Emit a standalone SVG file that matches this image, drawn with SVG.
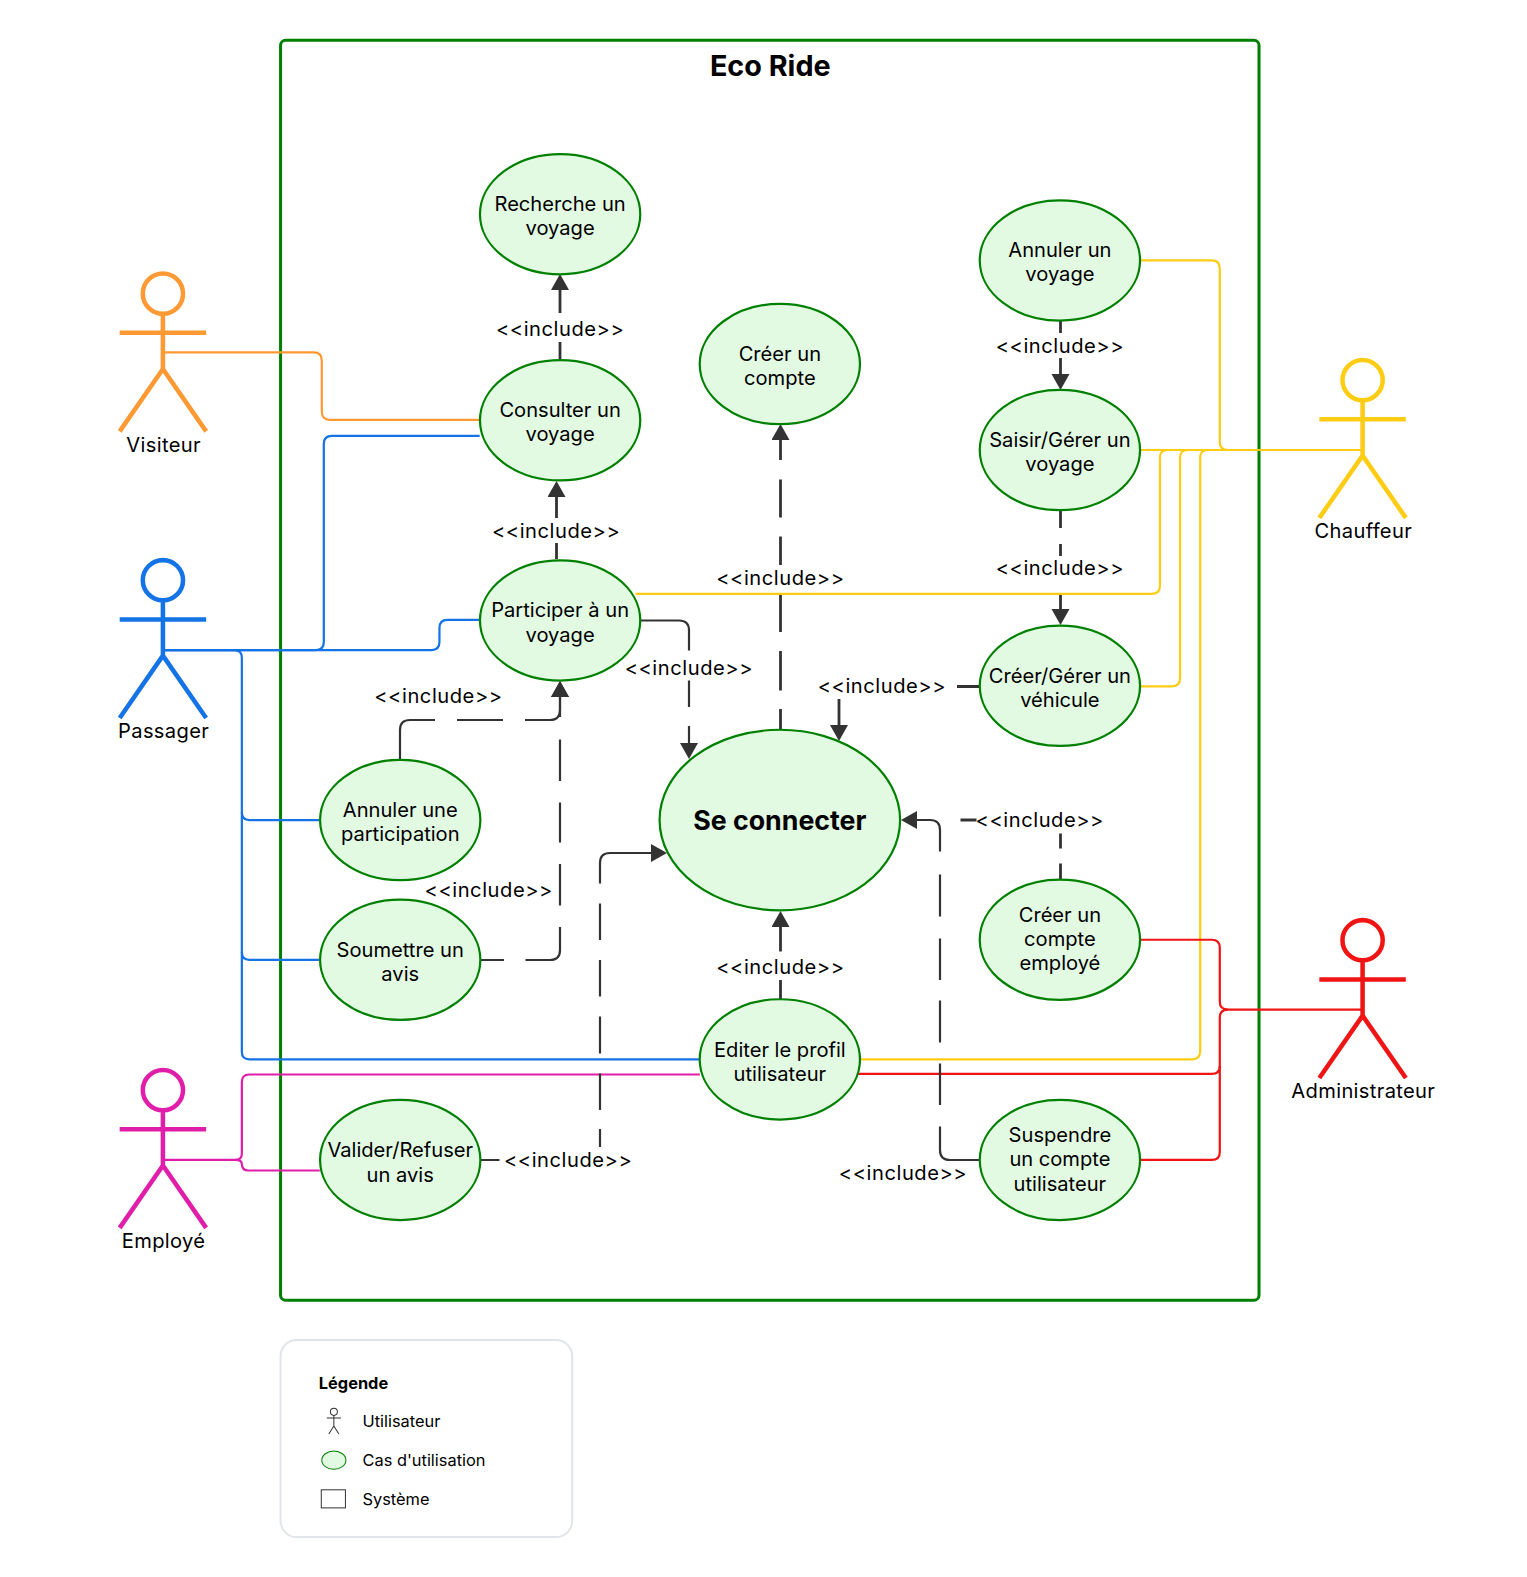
<svg xmlns="http://www.w3.org/2000/svg" width="1527" height="1577" viewBox="0 0 1527 1577">
<style>
text{font-family:Inter,"Liberation Sans",sans-serif;fill:#000;text-anchor:middle}
.uc ellipse{fill:#e2f9e2;stroke:#008000;stroke-width:2.2}
.uc text{font-size:20px}
.actor{fill:none;stroke-width:4.5}
.actor-label{font-size:20px;letter-spacing:.35px}
.lbl{font-size:20px;letter-spacing:.55px}
.c{fill:none;stroke-width:2.2}
.s{fill:none;stroke:#333;stroke-width:2.8}
.t{stroke-width:2.2}
.m{marker-end:url(#a)}
.leg{font-size:16.300px;text-anchor:start}
</style>
<defs>
<marker id="a" markerUnits="userSpaceOnUse" markerWidth="18" markerHeight="19" refX="7" refY="9" orient="auto"><path d="M0 0L16 9L0 18Z" fill="#333"/></marker>
<g id="act"><circle cx="0" cy="0" r="20"/><path d="M0 20V75M-43 39H43M0 75L-43 137M0 75L43 137"/></g>
</defs>
<g transform="scale(1.0056)">
<rect id="system" x="279" y="40" width="973" height="1253" rx="5" fill="#fff" stroke="#008000" stroke-width="3"/>
<text x="766" y="76" font-size="28.600" font-weight="700">Eco Ride</text>
</g>
<g id="connectors">
<g transform="scale(1.0056)">
<g class="c" stroke="#ff9933"><path d="M162 350.500H312Q320 350.500 320 358.500V409Q320 417.500 328 417.500H477"/></g>
<g class="c" stroke="#1473e6">
<path d="M162 646.500H314Q322 646.500 322 638.500V441.500Q322 433.500 330 433.500H477"/>
<path d="M162 646.500H429Q437 646.500 437 638.500V624.500Q437 616.500 445 616.500H477"/>
<path d="M162 646.500H233Q240.500 646.500 240.500 654V808Q240.500 815.500 248 815.500H318"/>
<path d="M240.500 808V947Q240.500 954.500 248 954.500H318"/>
<path d="M240.500 947V1046Q240.500 1053.500 248 1053.500H696"/>
</g>
<g class="c" stroke="#e01ea9">
<path d="M162 1153.500H234Q240.500 1153.500 240.500 1147V1076Q240.500 1068.500 248 1068.500H696"/>
<path d="M234 1153.500Q240.500 1153.500 240.500 1157.500Q240.500 1164 247 1164H318"/>
</g>
<g class="c" stroke="#ffcc14">
<path d="M1355 447.500H1221Q1213 447.500 1213 439.500V267Q1213 259 1205 259H1133"/>
<path d="M1355 447.500H1134"/>
<path d="M1161 447.500Q1153.500 447.500 1153.500 455V582.500Q1153.500 590.500 1145.500 590.500H632"/>
<path d="M1181 447.500Q1173.500 447.500 1173.500 455V674.500Q1173.500 682.500 1165.500 682.500H1134"/>
<path d="M1201 447.500Q1193.500 447.500 1193.500 455V1045.500Q1193.500 1053.500 1185.500 1053.500H855"/>
</g>
<g class="c" stroke="#f01414">
<path d="M1355 1004H1221Q1213 1004 1213 996V942.500Q1213 934.500 1205 934.500H1134"/>
<path d="M1221 1004Q1213 1004 1213 1012V1060Q1213 1068 1205 1068H853"/>
<path d="M1213 1060V1145.500Q1213 1153.500 1205 1153.500H1134"/>
</g>
</g>
<g id="includes">
<path class="s m" d="M560 360V342M560 313V283"/>
<path class="s m" d="M556.500 559V543M556.500 518V490"/>
<path class="s m" d="M780.500 730V709M780.500 690.500V651M780.500 632V595M780.500 565V536.500M780.500 517.500V479.500M780.500 460V433"/>
<path class="s m" d="M980 686.500H957M839 699V732"/>
<path class="s m" d="M1060.500 320V333M1060.500 358V381"/>
<path class="s m" d="M1060.500 511V528M1060.500 544V556M1060.500 595V616"/>
<path class="s t m" d="M641 620.500H679Q689 620.500 689 630.500V650.500M689 680.500V707M689 726V750"/>
<path class="s t m" d="M400 759V730Q400 720 410 720H435M457 720H503M525 720H550Q560 720 560 710V690"/>
<path class="s t m" d="M481 960H504M525.500 960H550Q560 960 560 950V927M560 905.500V864M560 842.500V802.500M560 781V739.500M560 717V690"/>
<path class="s t m" d="M481 1160H499.500M600 1147V1129M600 1110V1073.500M600 1053.500V1016.500M600 996.500V960M600 940V903.500M600 883.500V863Q600 853 610 853H658"/>
<path class="s m" d="M780.500 999V980M780.500 951.500V920"/>
<path class="s t m" d="M980 1160H950Q940 1160 940 1150V1126.500M940 1105V1063.500M940 1042.500V1000.500M940 980V938.500M940 916.500V874.500M940 851.500V830Q940 820 930 820H910"/>
<path class="s" d="M1060.500 879V863.500M1060.500 848.500V833.500M976.500 820H960.500"/>
</g>
</g>
<g transform="scale(1.0056)">
<g id="labels">
<text class="lbl" x="557" y="334">&lt;&lt;include&gt;&gt;</text>
<text class="lbl" x="553" y="535">&lt;&lt;include&gt;&gt;</text>
<text class="lbl" x="1054" y="351">&lt;&lt;include&gt;&gt;</text>
<text class="lbl" x="1054" y="572">&lt;&lt;include&gt;&gt;</text>
<text class="lbl" x="776" y="581.500">&lt;&lt;include&gt;&gt;</text>
<text class="lbl" x="685" y="671">&lt;&lt;include&gt;&gt;</text>
<text class="lbl" x="877" y="689.500">&lt;&lt;include&gt;&gt;</text>
<text class="lbl" x="436" y="699.500">&lt;&lt;include&gt;&gt;</text>
<text class="lbl" x="486" y="892">&lt;&lt;include&gt;&gt;</text>
<text class="lbl" x="565" y="1160.500">&lt;&lt;include&gt;&gt;</text>
<text class="lbl" x="776" y="969">&lt;&lt;include&gt;&gt;</text>
<text class="lbl" x="898" y="1173">&lt;&lt;include&gt;&gt;</text>
<text class="lbl" x="1034" y="822">&lt;&lt;include&gt;&gt;</text>
</g>
<g id="uc-recherche" class="uc"><ellipse cx="557" cy="213" rx="79.700" ry="59.800"/><text x="557" y="210">Recherche un</text><text x="557" y="234">voyage</text></g>
<g id="uc-consulter" class="uc"><ellipse cx="557" cy="418" rx="79.700" ry="59.800"/><text x="557" y="415">Consulter un</text><text x="557" y="439">voyage</text></g>
<g id="uc-participer" class="uc"><ellipse cx="557" cy="617" rx="79.700" ry="59.800"/><text x="557" y="614">Participer à un</text><text x="557" y="638">voyage</text></g>
<g id="uc-creer-compte" class="uc"><ellipse cx="775.500" cy="362" rx="79.700" ry="59.800"/><text x="775.500" y="359">Créer un</text><text x="775.500" y="383">compte</text></g>
<g id="uc-annuler-voyage" class="uc"><ellipse cx="1054" cy="259" rx="79.700" ry="59.800"/><text x="1054" y="256">Annuler un</text><text x="1054" y="279.500">voyage</text></g>
<g id="uc-saisir" class="uc"><ellipse cx="1054" cy="447.500" rx="79.700" ry="59.800"/><text x="1054" y="445">Saisir/Gérer un</text><text x="1054" y="468.500">voyage</text></g>
<g id="uc-vehicule" class="uc"><ellipse cx="1054" cy="682" rx="79.700" ry="59.800"/><text x="1054" y="679">Créer/Gérer un</text><text x="1054" y="703">véhicule</text></g>
<g id="uc-annuler-participation" class="uc"><ellipse cx="398" cy="815.500" rx="79.700" ry="59.800"/><text x="398" y="812">Annuler une</text><text x="398" y="836">participation</text></g>
<g id="uc-soumettre" class="uc"><ellipse cx="398" cy="954.500" rx="79.700" ry="59.800"/><text x="398" y="952">Soumettre un</text><text x="398" y="976">avis</text></g>
<g id="uc-connecter" class="uc"><ellipse cx="775.500" cy="815.500" rx="119.600" ry="89.800"/><text x="775.500" y="825" font-weight="700" style="font-size:26.600px">Se connecter</text></g>
<g id="uc-compte-employe" class="uc"><ellipse cx="1054" cy="934.500" rx="79.700" ry="59.800"/><text x="1054" y="917">Créer un</text><text x="1054" y="941">compte</text><text x="1054" y="965">employé</text></g>
<g id="uc-editer" class="uc"><ellipse cx="775.500" cy="1053.500" rx="79.700" ry="59.800"/><text x="775.500" y="1051">Editer le profil</text><text x="775.500" y="1075">utilisateur</text></g>
<g id="uc-valider" class="uc"><ellipse cx="398" cy="1153.500" rx="79.700" ry="59.800"/><text x="398" y="1151">Valider/Refuser</text><text x="398" y="1175">un avis</text></g>
<g id="uc-suspendre" class="uc"><ellipse cx="1054" cy="1153.500" rx="79.700" ry="59.800"/><text x="1054" y="1136">Suspendre</text><text x="1054" y="1160">un compte</text><text x="1054" y="1184">utilisateur</text></g>
<g id="actor-visiteur"><use href="#act" class="actor" stroke="#ff9933" x="162" y="292"/><text class="actor-label" x="162.700" y="449">Visiteur</text></g>
<g id="actor-passager"><use href="#act" class="actor" stroke="#1473e6" x="162" y="577"/><text class="actor-label" x="162.700" y="734">Passager</text></g>
<g id="actor-employe"><use href="#act" class="actor" stroke="#e01ea9" x="162" y="1084"/><text class="actor-label" x="162.700" y="1241">Employé</text></g>
<g id="actor-chauffeur"><use href="#act" class="actor" stroke="#ffcc14" x="1355" y="378"/><text class="actor-label" x="1355.700" y="535">Chauffeur</text></g>
<g id="actor-admin"><use href="#act" class="actor" stroke="#f01414" x="1355" y="935"/><text class="actor-label" x="1355.700" y="1092">Administrateur</text></g>
<g id="legend">
<rect x="279" y="1332.500" width="290" height="196" rx="16" fill="#fff" stroke="#e1e5ea" stroke-width="2"/>
<text class="leg" x="317" y="1381" font-weight="700">Légende</text>
<g fill="none" stroke="#333" stroke-width="1"><circle cx="332" cy="1404" r="3.500"/><path d="M332 1407.500V1418M325 1410H339M332 1418L327 1426M332 1418L337 1426"/></g>
<text class="leg" x="360.500" y="1419.500">Utilisateur</text>
<ellipse cx="332" cy="1452" rx="12" ry="9" fill="#e2f9e2" stroke="#008000" stroke-width="1"/>
<text class="leg" x="360.500" y="1458">Cas d'utilisation</text>
<rect x="319.500" y="1481.500" width="24" height="18" fill="#fff" stroke="#333" stroke-width="1"/>
<text class="leg" x="360.500" y="1496.500">Système</text>
</g>
</g>
</svg>
